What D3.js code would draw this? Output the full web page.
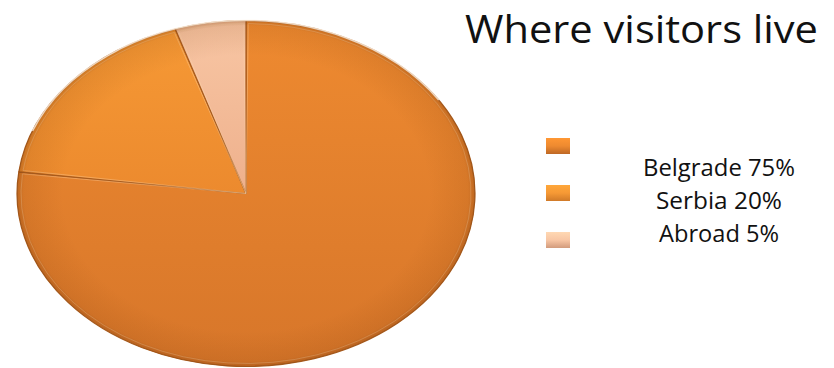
<!DOCTYPE html>
<html>
<head>
<meta charset="utf-8">
<script src="https://cdn.jsdelivr.net/npm/d3@7"></script>
<style>
  html, body { margin: 0; padding: 0; background: #fff; }
  svg { display: block; }
  text { font-family: "Open Sans", sans-serif; fill: #111; }
</style>
</head>
<body>
<svg id="chart" width="834" height="368"></svg>
<script>
// data
const categories = ["Belgrade", "Serbia", "Abroad"];
const shares = [77, 18, 5];              // slice sizes as drawn
const legendLabels = ["Belgrade 75%", "Serbia 20%", "Abroad 5%"];
const titleText = "Where visitors live";

const W = 834, H = 368;
const svg = d3.select("#chart");
const defs = svg.append("defs");

// slice colours (top, bottom of gradient)
const colors = d3.scaleOrdinal()
  .domain(categories)
  .range([["#ee8a30", "#d7762a"], ["#f69935", "#ec8a2e"], ["#f8c6a4", "#eeb08c"]]);

categories.forEach((c, i) => {
  const g = defs.append("linearGradient")
    .attr("id", "grad" + i).attr("x1", 0).attr("y1", 0).attr("x2", 0).attr("y2", 1);
  g.append("stop").attr("offset", "0%").attr("stop-color", colors(c)[0]);
  g.append("stop").attr("offset", "100%").attr("stop-color", colors(c)[1]);
});

// rim shading for the whole ellipse
const rim = defs.append("radialGradient").attr("id", "rim");
rim.append("stop").attr("offset", "80%").attr("stop-color", "#7a3a08").attr("stop-opacity", 0);
rim.append("stop").attr("offset", "97%").attr("stop-color", "#7a3a08").attr("stop-opacity", 0.12);
rim.append("stop").attr("offset", "100%").attr("stop-color", "#7a3a08").attr("stop-opacity", 0.35);

// pie geometry: a circle stretched sideways
const cx = 246, cy = 193.5, r = 173, sx = 229 / 173;

const pie = d3.pie().sort(null).value(d => d.v);
const arc = d3.arc().innerRadius(0).outerRadius(r);
const arcs = pie(categories.map((c, i) => ({ c, v: shares[i], i })));

const pg = svg.append("g")
  .attr("transform", `translate(${cx},${cy}) scale(${sx},1)`);

pg.selectAll("path.slice")
  .data(arcs)
  .join("path")
  .attr("class", "slice")
  .attr("d", arc)
  .attr("fill", d => `url(#grad${d.data.i})`)
  .attr("stroke", "#a95c1e")
  .attr("stroke-width", 1.2)
  .attr("stroke-linejoin", "round")
  .attr("vector-effect", "non-scaling-stroke");

// soft highlight just inside each slice edge
const arcIn = d3.arc().innerRadius(0).outerRadius(r - 3);
pg.selectAll("path.hi")
  .data(arcs)
  .join("path")
  .attr("class", "hi")
  .attr("d", d => arcIn({ startAngle: d.startAngle + 0.01, endAngle: d.endAngle - 0.01 }))
  .attr("fill", "none")
  .attr("stroke", "#ffd9b0")
  .attr("stroke-opacity", 0.35)
  .attr("stroke-width", 1)
  .attr("vector-effect", "non-scaling-stroke");

pg.append("circle")
  .attr("r", r)
  .attr("fill", "url(#rim)")
  .attr("pointer-events", "none");

// light rim on the upper edge
pg.append("path")
  .attr("d", d3.arc().innerRadius(r).outerRadius(r)({ startAngle: -1.2, endAngle: 1.0 }))
  .attr("fill", "none")
  .attr("stroke", "#fff4e6")
  .attr("stroke-opacity", 0.8)
  .attr("stroke-width", 1.5)
  .attr("vector-effect", "non-scaling-stroke");

// title
svg.append("text")
  .attr("x", 465).attr("y", 43)
  .attr("font-size", 39)
  .attr("textLength", 353)
  .attr("lengthAdjust", "spacingAndGlyphs")
  .text(titleText);

// legend
const y = d3.scalePoint().domain(categories).range([146, 240]);
const baseY = d3.scalePoint().domain(categories).range([176, 242]);
const textW = [152, 126, 120];

const legGrad = defs.selectAll("linearGradient.leg")
  .data(categories)
  .join("linearGradient")
  .attr("class", "leg")
  .attr("id", (d, i) => "leg" + i)
  .attr("x1", 0).attr("y1", 0).attr("x2", 0).attr("y2", 1);
legGrad.append("stop").attr("offset", "0%").attr("stop-color", d => d3.color(colors(d)[0]).brighter(0.25));
legGrad.append("stop").attr("offset", "50%").attr("stop-color", d => colors(d)[0]);
legGrad.append("stop").attr("offset", "100%").attr("stop-color", d => d3.color(colors(d)[1]).darker(0.35));

const leg = svg.append("g");
leg.selectAll("rect")
  .data(categories)
  .join("rect")
  .attr("x", 546).attr("y", d => y(d) - 8)
  .attr("width", 24).attr("height", 16)
  .attr("fill", (d, i) => `url(#leg${i})`);

leg.selectAll("text")
  .data(categories)
  .join("text")
  .attr("x", 719).attr("y", d => baseY(d))
  .attr("text-anchor", "middle")
  .attr("font-size", 24)
  .attr("textLength", (d, i) => textW[i])
  .attr("lengthAdjust", "spacingAndGlyphs")
  .text((d, i) => legendLabels[i]);
</script>
</body>
</html>
